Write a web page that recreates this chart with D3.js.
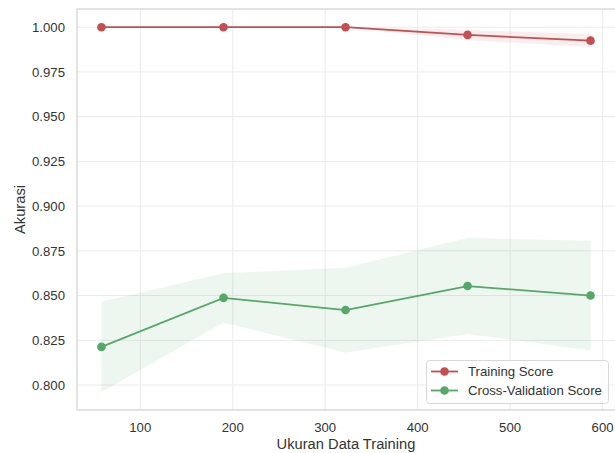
<!DOCTYPE html>
<html>
<head>
<meta charset="utf-8">
<script src="https://cdn.jsdelivr.net/npm/d3@7"></script>
<style>
  html, body { margin: 0; padding: 0; background: #fff; }
  svg { display: block; }
  text { font-family: "Liberation Sans", Arial, sans-serif; }
</style>
</head>
<body>
<svg id="chart" width="615" height="453"></svg>
<script>
// ---- data ----
const trainSizes = [58, 190, 322, 454, 587];
const trainMean = [1.000, 1.000, 1.000, 0.9957, 0.9925];
const trainStd  = [0.0000, 0.0000, 0.0000, 0.0028, 0.0036];
const cvMean = [0.8213, 0.8487, 0.8419, 0.8553, 0.8500];
const cvStd  = [0.0252, 0.0137, 0.0237, 0.0268, 0.0306];
const xTicks = [100, 200, 300, 400, 500, 600];
const yTicks = [0.800, 0.825, 0.850, 0.875, 0.900, 0.925, 0.950, 0.975, 1.000];
const seriesNames = ["Training Score", "Cross-Validation Score"];
const xLabel = "Ukuran Data Training";
const yLabel = "Akurasi";

(function () {
// ---- layout ----
const svg = d3.select("#chart");
const pL = 77, pR = 615, pT = 9, pB = 410;
const red = "#c44e52", green = "#55a868";

const x = d3.scaleLinear().domain([31.55, 613.45]).range([pL, pR]);
const y = d3.scaleLinear().domain([0.78602, 1.01018]).range([pB, pT]);

// grid
const g = svg.append("g");
g.selectAll("line.vg").data(xTicks).join("line")
  .attr("x1", d => x(d)).attr("x2", d => x(d))
  .attr("y1", pT).attr("y2", pB)
  .attr("stroke", "#ebebeb").attr("stroke-width", 1);
g.selectAll("line.hg").data(yTicks).join("line")
  .attr("x1", pL).attr("x2", pR)
  .attr("y1", d => y(d)).attr("y2", d => y(d))
  .attr("stroke", "#ebebeb").attr("stroke-width", 1);

// bands
const series = [
  {name: seriesNames[0], mean: trainMean, std: trainStd, color: red},
  {name: seriesNames[1], mean: cvMean, std: cvStd, color: green}
];
const area = d3.area()
  .x((d, i) => x(trainSizes[i]))
  .y0(d => y(d[0] - d[1]))
  .y1(d => y(d[0] + d[1]));
const line = d3.line()
  .x((d, i) => x(trainSizes[i]))
  .y(d => y(d));

series.forEach(s => {
  const pts = s.mean.map((m, i) => [m, s.std[i]]);
  svg.append("path").attr("d", area(pts))
    .attr("fill", s.color).attr("fill-opacity", 0.1).attr("stroke", "none");
});
series.forEach(s => {
  svg.append("path").attr("d", line(s.mean))
    .attr("fill", "none").attr("stroke", s.color).attr("stroke-width", 1.8);
  svg.selectAll(null).data(s.mean).join("circle")
    .attr("cx", (d, i) => x(trainSizes[i])).attr("cy", d => y(d))
    .attr("r", 4.3).attr("fill", s.color);
});

// frame
svg.append("rect")
  .attr("x", pL).attr("y", pT)
  .attr("width", pR - pL + 2).attr("height", pB - pT)
  .attr("fill", "none").attr("stroke", "#d5d5d5").attr("stroke-width", 1.3);

// tick labels
svg.selectAll("text.xt").data(xTicks).join("text")
  .attr("x", d => x(d)).attr("y", 431.5)
  .attr("text-anchor", "middle").attr("font-size", 13.2).attr("fill", "#333")
  .text(d => d);
svg.selectAll("text.yt").data(yTicks).join("text")
  .attr("x", 65).attr("y", d => y(d) + 4.7)
  .attr("text-anchor", "end").attr("font-size", 13.2).attr("fill", "#333")
  .text(d => d3.format(".3f")(d));

// axis labels
svg.append("text")
  .attr("x", (pL + pR) / 2).attr("y", 448.5)
  .attr("text-anchor", "middle").attr("font-size", 14.7).attr("fill", "#333")
  .text(xLabel);
svg.append("text")
  .attr("transform", `translate(25, ${(pT + pB) / 2}) rotate(-90)`)
  .attr("text-anchor", "middle").attr("font-size", 14.7).attr("fill", "#333")
  .text(yLabel);

// legend
const lg = svg.append("g");
lg.append("rect")
  .attr("x", 426.5).attr("y", 360.5).attr("width", 182).attr("height", 43)
  .attr("rx", 3).attr("fill", "#fff").attr("fill-opacity", 0.85)
  .attr("stroke", "#d8d8d8").attr("stroke-width", 1);
series.forEach((s, i) => {
  const yy = 371.5 + i * 19;
  lg.append("line").attr("x1", 431).attr("x2", 458)
    .attr("y1", yy).attr("y2", yy)
    .attr("stroke", s.color).attr("stroke-width", 1.8);
  lg.append("circle").attr("cx", 444.5).attr("cy", yy).attr("r", 4.3).attr("fill", s.color);
  lg.append("text").attr("x", 468).attr("y", yy + 4.7)
    .attr("font-size", 13.2).attr("fill", "#333").text(s.name);
});
})();
</script>
</body>
</html>
